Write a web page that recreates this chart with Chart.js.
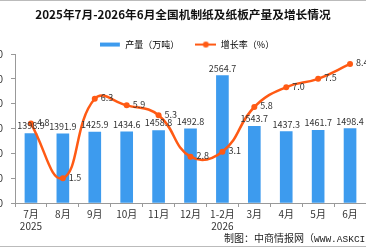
<!DOCTYPE html>
<html><head><meta charset="utf-8">
<script src="https://cdn.jsdelivr.net/npm/chart.js@4/dist/chart.umd.min.js"></script>
<style>
html,body{margin:0;padding:0;background:#fff;overflow:hidden;width:366px;height:248px;position:relative}
#c{position:absolute;left:0;top:0}
.bt{position:absolute;left:0;top:0;width:366px;height:1px;background:#bbb}
.bb{position:absolute;left:0;top:246px;width:366px;height:1px;background:#bbb}
#src{position:absolute;left:224px;top:231px;font:10px "Noto Sans CJK SC";color:#222;white-space:nowrap;line-height:14px}
#src span{font-family:"Liberation Mono",monospace;font-size:9.5px}
</style></head><body>
<canvas id="c" width="391" height="248"></canvas>
<div class="bt"></div><div class="bb"></div>
<div id="src">制图：中商情报网（<span>WWW.ASKCI.COM</span>）</div>
<script>
const categories = [["7月","2025"],"8月","9月","10月","11月","12月",["1-2月","2026"],"3月","4月","5月","6月"];
const output = [1398.9,1391.9,1425.9,1434.6,1458.8,1492.8,2564.7,1543.7,1437.3,1461.7,1498.4];
const growth = [4.8,1.5,6.3,5.9,5.3,2.8,3.1,5.8,7.0,7.5,8.4];
const outputTicks = [0,500,1000,1500,2000,2500,3000];
const growthRange = [0,9];
const seriesNames = ["产量（万吨）","增长率（%）"];

const BLUE = '#3d9bee', ORANGE = '#ff5a14';
const FONT = '"Noto Sans CJK SC", sans-serif';

function mkIcon(kind){
  const cv = document.createElement('canvas');
  cv.width = 21; cv.height = 8;
  const g = cv.getContext('2d');
  if(kind==='bar'){ g.fillStyle = BLUE; g.fillRect(0,2,20,4); }
  else { g.strokeStyle = ORANGE; g.lineWidth = 2; g.beginPath(); g.moveTo(0,4); g.lineTo(21,4); g.stroke();
    g.fillStyle = ORANGE; g.beginPath(); g.arc(10.5,4,3,0,Math.PI*2); g.fill(); }
  return cv;
}
const icons = [mkIcon('bar'), mkIcon('line')];

const labelPlugin = {
  id:'vals',
  afterLayout(chart){ if(chart.legend){ chart.legend.left += 4; chart.legend.right += 4; } },
  afterDatasetsDraw(chart){
    const ctx = chart.ctx;
    ctx.save();
    ctx.font = '9px ' + FONT;
    ctx.fillStyle = '#333';
    const mb = chart.getDatasetMeta(0);
    ctx.textAlign = 'center'; ctx.textBaseline = 'bottom';
    mb.data.forEach((el,i)=>{ ctx.fillText(output[i].toFixed(1), el.x, el.y - 3); });
    const ml = chart.getDatasetMeta(1);
    ctx.textAlign = 'left'; ctx.textBaseline = 'middle';
    ml.data.forEach((el,i)=>{ ctx.fillText(growth[i].toFixed(1), el.x + 6, el.y - 1); });
    ctx.restore();
  }
};

new Chart(document.getElementById('c'), {
  data:{
    labels: categories,
    datasets:[
      {type:'bar', label:seriesNames[0], data:output, backgroundColor:BLUE, barThickness:12, yAxisID:'y', order:1},
      {type:'line', label:seriesNames[1], data:growth, borderColor:ORANGE, backgroundColor:ORANGE, borderWidth:2.5,
       pointRadius:3, pointBackgroundColor:ORANGE, pointBorderWidth:0, tension:0.45, yAxisID:'y1', order:0}
    ]
  },
  options:{
    responsive:false, devicePixelRatio:1, animation:false,
    layout:{padding:{left:0,right:25,top:0,bottom:0}},
    plugins:{
      title:{display:true, text:'2025年7月-2026年6月全国机制纸及纸板产量及增长情况', color:'#111',
        font:{family:FONT, size:11.7, weight:'bold'}, padding:{top:8,bottom:2}},
      legend:{display:true, maxHeight:30,
        labels:{usePointStyle:true, pointStyleWidth:21, boxHeight:8, padding:16, color:'#333',
          font:{family:FONT, size:9},
          generateLabels:()=>seriesNames.map((n,i)=>({text:n, pointStyle:icons[i], fillStyle:i?ORANGE:BLUE, strokeStyle:'transparent', lineWidth:0, datasetIndex:i, hidden:false}))}},
      tooltip:{enabled:false}
    },
    scales:{
      x:{offset:true,
        grid:{display:true, drawOnChartArea:false, offset:true, tickLength:4, color:'#999'},
        border:{color:'#999'},
        ticks:{color:'#333', font:{family:FONT, size:10}, padding:1, maxRotation:0, autoSkip:false},
        afterFit(s){ s.height = 45; }
      },
      y:{position:'left', min:outputTicks[0], max:outputTicks[outputTicks.length-1],
        afterBuildTicks(s){ s.ticks = outputTicks.map(v=>({value:v})); },
        grid:{display:true, drawOnChartArea:false, tickLength:4, color:'#999'},
        border:{color:'#999'},
        ticks:{color:'#333', font:{family:FONT, size:10}, padding:8},
        afterFit(s){ s.width = 15; }
      },
      y1:{position:'right', display:false, min:growthRange[0], max:growthRange[1]}
    }
  },
  plugins:[labelPlugin]
});
</script>
</body></html>
